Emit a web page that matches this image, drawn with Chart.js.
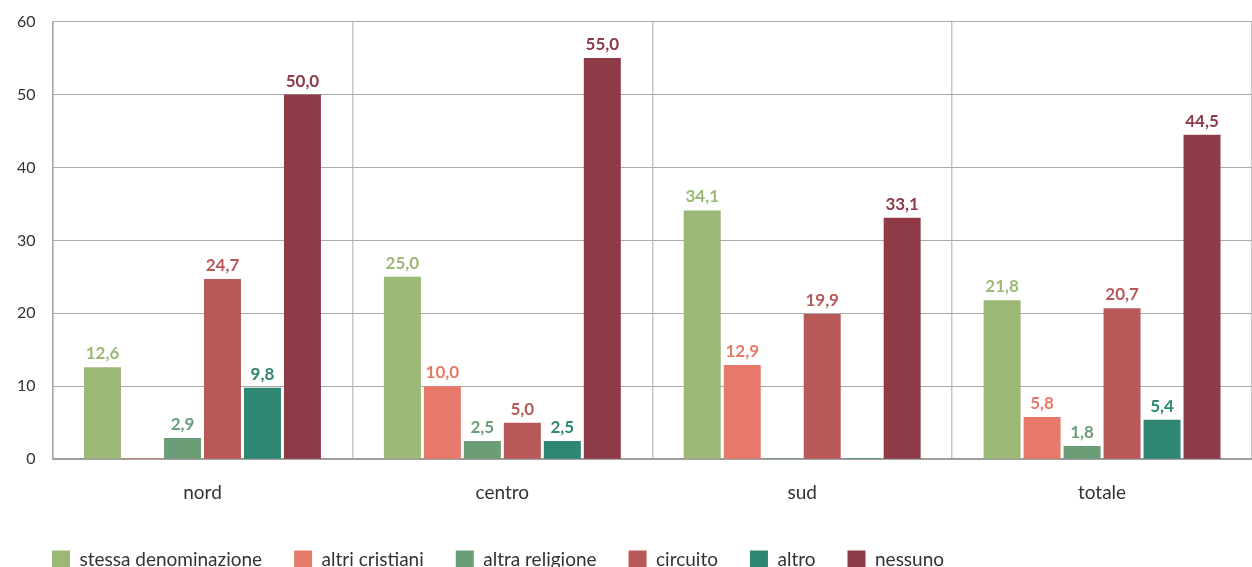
<!DOCTYPE html>
<html>
<head>
<meta charset="utf-8">
<script src="https://cdn.jsdelivr.net/npm/chart.js@4.4.1/dist/chart.umd.min.js"></script>
<style>
  html, body { margin: 0; padding: 0; background: #fff; overflow: hidden; }
  #wrap { position: absolute; left: 0; top: -5px; width: 1252px; height: 584px; }
</style>
</head>
<body>
<div id="wrap"><canvas id="chart"></canvas></div>
<script>
// dati
var categories = ['nord', 'centro', 'sud', 'totale'];
var seriesNames = ['stessa denominazione', 'altri cristiani', 'altra religione', 'circuito', 'altro', 'nessuno'];
var stessaDenominazione = [12.6, 25.0, 34.1, 21.8];
var altriCristiani = [0, 10.0, 12.9, 5.8];
var altraReligione = [2.9, 2.5, 0, 1.8];
var circuito = [24.7, 5.0, 19.9, 20.7];
var altro = [9.8, 2.5, 0, 5.4];
var nessuno = [50.0, 55.0, 33.1, 44.5];
var yTicks = [0, 10, 20, 30, 40, 50, 60];

var colors = ['#9bb877', '#e7796a', '#6b9e76', '#b85858', '#2e8673', '#8e3a47'];
var values = [stessaDenominazione, altriCristiani, altraReligione, circuito, altro, nessuno];

var datasets = [];
for (var i = 0; i < seriesNames.length; i++) {
    datasets.push({
        label: seriesNames[i],
        data: values[i],
        backgroundColor: colors[i],
        borderWidth: 0,
        minBarLength: 1,
        categoryPercentage: 0.8,
        barPercentage: 0.925
    });
}

// etichette sopra le barre
var valueLabels = {
    id: 'valueLabels',
    afterDatasetsDraw: function (chart) {
        var ctx = chart.ctx;
        ctx.save();
        ctx.font = 'bold 17px Lato';
        ctx.textAlign = 'center';
        ctx.textBaseline = 'bottom';
        chart.data.datasets.forEach(function (ds, di) {
            var meta = chart.getDatasetMeta(di);
            meta.data.forEach(function (bar, j) {
                var v = ds.data[j];
                if (!v) return;
                ctx.fillStyle = ds.backgroundColor;
                ctx.fillText(v.toFixed(1).replace('.', ','), bar.x, bar.y - 5);
            });
        });
        ctx.restore();
    }
};

// sposta la legenda a destra, allineata all'asse
var legendShift = {
    id: 'legendShift',
    afterLayout: function (chart) {
        chart.legend.left += 20;
        chart.legend.right += 20;
    }
};

var ctx = document.getElementById('chart');
var chart = new Chart(ctx, {
    type: 'bar',
    data: { labels: categories, datasets: datasets },
    options: {
        responsive: true,
        maintainAspectRatio: false,
        animation: false,
        layout: { padding: { top: 4, left: 0, right: 0, bottom: 0 } },
        plugins: {
            tooltip: { enabled: false },
            legend: {
                position: 'bottom',
                align: 'start',
                labels: {
                    color: '#333',
                    font: { family: 'Lato', size: 19 },
                    boxWidth: 18,
                    boxHeight: 18,
                    padding: 32
                }
            }
        },
        scales: {
            x: {
                grid: { color: '#c8c8c8', lineWidth: 1.5, drawTicks: false },
                border: { display: true, color: '#999', width: 1.5 },
                ticks: { color: '#333', font: { family: 'Lato', size: 19 }, padding: 22 },
                afterFit: function (axis) { axis.height -= 8; }
            },
            y: {
                min: 0,
                max: 60,
                afterBuildTicks: function (axis) {
                    axis.ticks = yTicks.map(function (t) { return { value: t }; });
                },
                grid: { color: '#aaa', lineWidth: 1, drawTicks: false },
                border: { display: true, color: '#aaa', width: 1.5 },
                ticks: { color: '#333', font: { family: 'Lato', size: 16 }, padding: 17 }
            }
        }
    },
    plugins: [valueLabels, legendShift]
});
</script>
</body>
</html>
